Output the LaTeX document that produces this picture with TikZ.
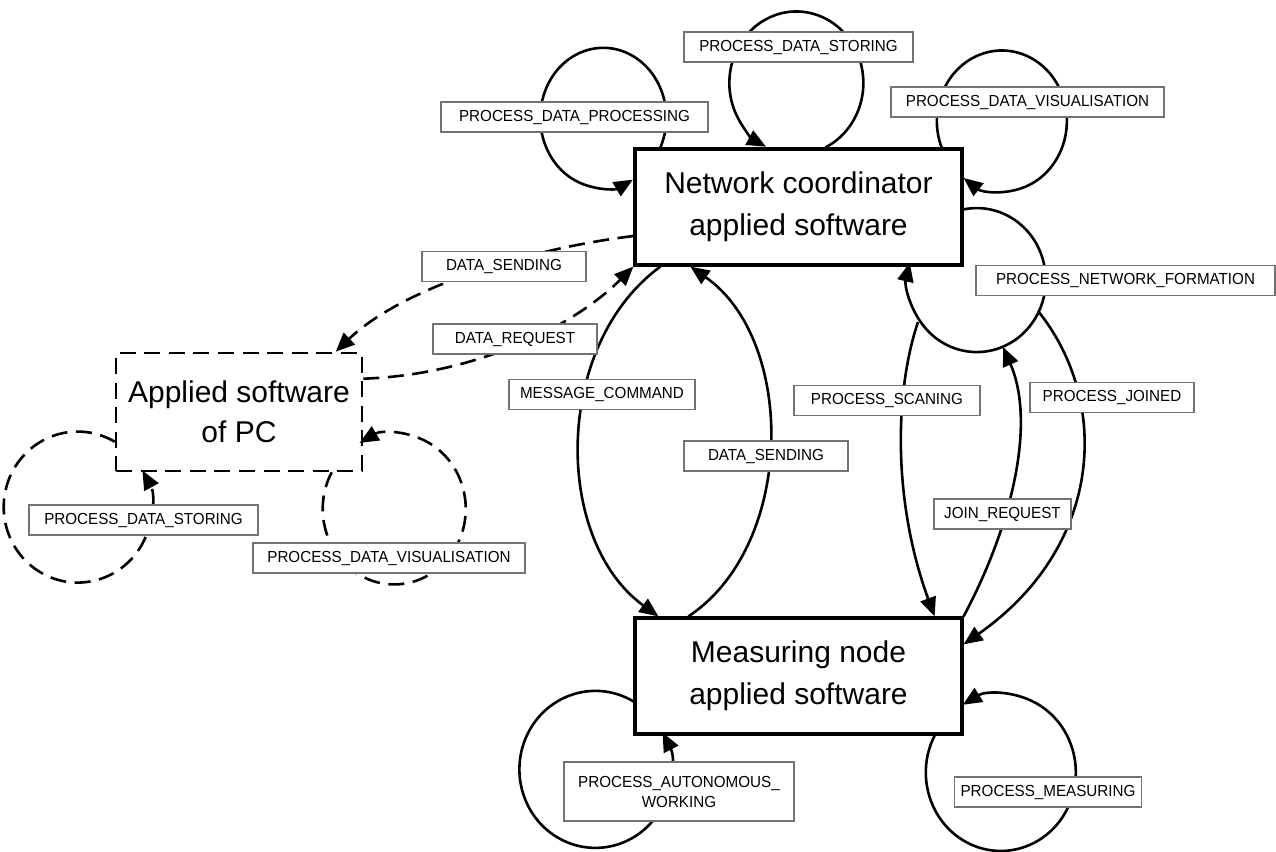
\documentclass[tikz,border=0pt]{standalone}
\usepackage{fontspec}
\setmainfont{Liberation Sans}
\newfontfamily\tagfont[FakeStretch=0.95]{Liberation Sans}
\usetikzlibrary{arrows.meta,calc}

\begin{document}
\begin{tikzpicture}[x=0.5pt,y=-0.5pt,
    block/.style={draw,line width=1.6pt,minimum width=163.5pt,minimum height=58pt,
        align=center,font=\fontsize{15}{21}\selectfont},
    pcblock/.style={draw,line width=1.3pt,dash pattern=on 8pt off 4.3pt,
        minimum width=123pt,minimum height=59pt,align=center,font=\fontsize{15}{20}\selectfont},
    tag/.style={draw=black!55,line width=0.6pt,fill=white,minimum height=15pt,
        inner xsep=3pt,inner ysep=2pt,align=center,font=\tagfont\fontsize{8}{10}\selectfont},
    flow/.style={line width=1.3pt,-{Triangle[length=9.5pt,width=8pt]}},
    pcflow/.style={flow,dash pattern=on 8pt off 4.3pt}]
            \useasboundingbox (0,0) rectangle (1276,852);
            \node[block] (coord) at (798.5,207) {Network coordinator\\applied software};
            \node[block] (meas) at (798.5,676) {Measuring node\\applied software};
            \node[pcblock] (pc) at (239,412) {Applied software\\of PC};
            \coordinate (scan) at (918,322);
            \coordinate (joinend) at (1003,347);
            \coordinate (joinstart) at (1038,311);
            \draw[flow] ($(coord.north west)+(27,0)$)
                arc[start angle=25, end angle=-298, x radius=63, y radius=70];
            \draw[flow] ($(coord.north west)+(192,0)$)
                arc[start angle=64.3, end angle=-243, x radius=67, y radius=71.5];
            \draw[flow] ($(coord.north east)+(-22,0)$)
                arc[start angle=158, end angle=486, x radius=65, y radius=70.5];
            \draw[flow] ($(coord.north east)+(0,62)$)
                arc[start angle=259, end angle=554, x radius=69, y radius=72];
            \draw[flow] ($(meas.north west)+(0,85)$)
                arc[start angle=-60, end angle=-388, x radius=76, y radius=78.5];
            \draw[flow] ($(meas.south east)+(-29,0)$)
                arc[start angle=208, end angle=-120.5, x radius=75, y radius=78.5];
            \draw[pcflow] ($(pc.north west)+(0,90)$)
                arc[start angle=-60, end angle=-389, x radius=74, y radius=75.5];
            \draw[pcflow] ($(pc.south west)+(217,0)$)
                arc[start angle=209, end angle=-119, x radius=71.5, y radius=75.5];
            \draw[flow] ($(coord.south west)+(27,0)$) .. controls (553,345) and (553,540) ..
                ($(meas.north west)+(25,0)$);
            \draw[flow] ($(meas.north west)+(55,0)$) .. controls (796,545) and (796,340) ..
                ($(coord.south west)+(57,0)$);
            \draw[flow] (scan) .. controls (895,390) and (892,500) .. ($(meas.north east)+(-29,0)$);
            \draw[flow] (meas.north east) .. controls (1015,520) and (1035,420) .. (joinend);
            \draw[flow] (joinstart) .. controls (1110,400) and (1105,545) ..
                ($(meas.north east)+(0,28)$);
            \draw[pcflow] ($(coord.west)+(0,29)$) .. controls (520,250) and (400,290) ..
                ($(pc.north west)+(221,0)$);
            \draw[pcflow] ($(pc.north east)+(0,27)$) .. controls (470,375) and (570,330) ..
                (coord.south west);
            \node[tag,minimum width=133.5pt] (tproc) at (574.5,117) {PROCESS\_DATA\_PROCESSING};
            \node[tag,minimum width=114.5pt] (tstore) at (798.5,47) {PROCESS\_DATA\_STORING};
            \node[tag,minimum width=136.5pt] (tvis) at (1027.5,102) {PROCESS\_DATA\_VISUALISATION};
            \node[tag,minimum width=149.5pt] (tform) at (1125.5,280.5) {PROCESS\_NETWORK\_FORMATION};
            \node[tag,minimum width=82pt] (tsend) at (504,266.5) {DATA\_SENDING};
            \node[tag,minimum width=82pt] (treq) at (515,339) {DATA\_REQUEST};
            \node[tag,minimum width=93pt] (tcmd) at (602,394.5) {MESSAGE\_COMMAND};
            \node[tag,minimum width=82pt] (tsendb) at (766,456) {DATA\_SENDING};
            \node[tag,minimum width=93pt] (tscan) at (887,400.5) {PROCESS\_SCANING};
            \node[tag,minimum width=82pt] (tjoined) at (1112,397.5) {PROCESS\_JOINED};
            \node[tag,minimum width=68.5pt] (tjoin) at (1002.5,514) {JOIN\_REQUEST};
            \node[tag,minimum width=115pt,minimum height=29.5pt] (tauto) at (679,791.5)
                {PROCESS\_AUTONOMOUS\_\\WORKING};
            \node[tag,minimum width=89pt] (tmeas) at (1048,792) {PROCESS\_MEASURING};
            \node[tag,minimum width=114.5pt] (tpcstore) at (143.5,520) {PROCESS\_DATA\_STORING};
            \node[tag,minimum width=136pt] (tpcvis) at (389,558) {PROCESS\_DATA\_VISUALISATION};
        \end{tikzpicture}
\end{document}
